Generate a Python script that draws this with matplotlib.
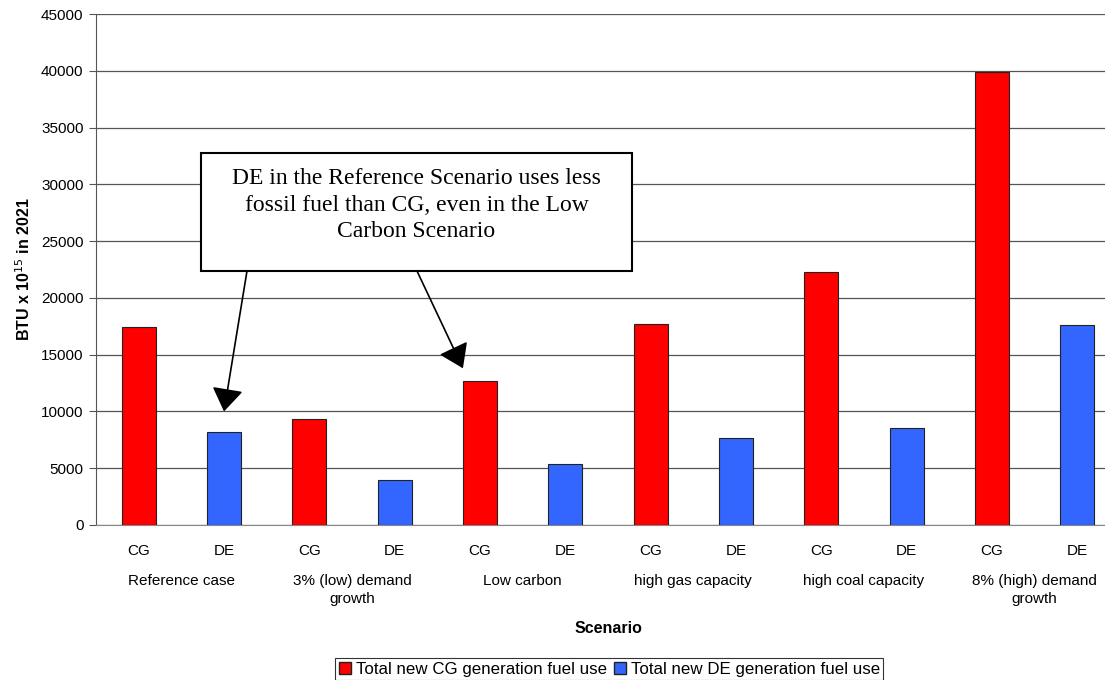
import matplotlib.pyplot as plt
from matplotlib.patches import Rectangle
from matplotlib.lines import Line2D
import matplotlib.transforms as mtransforms

plt.rcParams['font.family'] = ['Liberation Sans', 'DejaVu Sans']

# data
scenarios = ["Reference case", "3% (low) demand\ngrowth", "Low carbon",
             "high gas capacity", "high coal capacity", "8% (high) demand\ngrowth"]
cg_fuel = [17450, 9300, 12700, 17700, 22300, 39850]
de_fuel = [8150, 4000, 5400, 7650, 8530, 17600]
bar_labels = ["CG", "DE"] * 6
y_ticks = list(range(0, 45001, 5000))

note = "DE in the Reference Scenario uses less\nfossil fuel than CG, even in the Low\nCarbon Scenario"

fig = plt.figure(figsize=(11.05, 6.8), dpi=100)
ax = fig.add_axes([96 / 1105, 1 - 525 / 680, 1024 / 1105, 511 / 680])

cg_x = [2 * i for i in range(len(scenarios))]
de_x = [2 * i + 1 for i in range(len(scenarios))]
ax.bar(cg_x, cg_fuel, width=0.4, color='#ff0000', edgecolor='#222222', linewidth=0.8, zorder=3)
ax.bar(de_x, de_fuel, width=0.4, color='#3366ff', edgecolor='#222222', linewidth=0.8, zorder=3)

ax.set_xlim(-0.5, 11.5)
ax.set_ylim(0, 45000)
ax.set_yticks(y_ticks)
ax.set_yticklabels([str(v) for v in y_ticks], fontsize=11)
ax.set_xticks(range(12))
ax.set_xticklabels(bar_labels, fontsize=11)
ax.tick_params(axis='x', length=0, pad=14)
ax.tick_params(axis='y', length=5, direction='out', color='#555555', pad=4)
ax.yaxis.grid(True, color='#555555', linewidth=0.9, zorder=0)
ax.set_axisbelow(True)

for s in ['top', 'right']:
    ax.spines[s].set_visible(False)
ax.spines['left'].set_color('#555555')
ax.spines['bottom'].set_color('#888888')

# group labels below the CG/DE ticks
trans = mtransforms.blended_transform_factory(ax.transData, ax.transAxes)
for i, name in enumerate(scenarios):
    ax.text(2 * i + 0.5, -0.095, name, transform=trans, ha='center', va='top',
            fontsize=11, linespacing=1.45)

ax.text(0.5, -0.2016, "Scenario", transform=ax.transAxes, ha='center', va='center',
        fontsize=11.5, fontweight='bold')
ax.set_ylabel(r"BTU x 10$^{15}$ in 2021", fontsize=11.5, fontweight='bold', labelpad=6)

# annotation box with two arrows
box = Rectangle((0.73, 22394), 5.05, 32750 - 22394, facecolor='white',
                edgecolor='black', linewidth=1.5, zorder=5)
ax.add_patch(box)
ax.text(3.255, 28150, note, ha='center', va='center', fontsize=17,
        family='Liberation Serif', linespacing=1.35, zorder=6)
arrow = dict(arrowstyle='-|>,head_length=0.4,head_width=0.27', mutation_scale=36, lw=1.2,
             color='black', shrinkA=0, shrinkB=0)
ax.annotate("", xy=(1.0, 10000), xytext=(1.27, 22394), arrowprops=arrow, zorder=6)
ax.annotate("", xy=(3.8, 13800), xytext=(3.26, 22394), arrowprops=arrow, zorder=6)

handles = [Line2D([], [], marker='s', linestyle='', markersize=8.5, markerfacecolor='#ff0000',
                  markeredgecolor='#222222'),
           Line2D([], [], marker='s', linestyle='', markersize=8.5, markerfacecolor='#3366ff',
                  markeredgecolor='#222222')]
leg = fig.legend(handles, ["Total new CG generation fuel use", "Total new DE generation fuel use"],
                 loc='lower center', bbox_to_anchor=(609 / 1105, 0.0), ncol=2, fontsize=12.2,
                 frameon=True, fancybox=False, edgecolor='black', handlelength=0.8,
                 handletextpad=0.25, columnspacing=0.35, borderpad=0.2, borderaxespad=0.0)
leg.get_frame().set_linewidth(0.8)

fig.savefig("out.png", dpi=100)
